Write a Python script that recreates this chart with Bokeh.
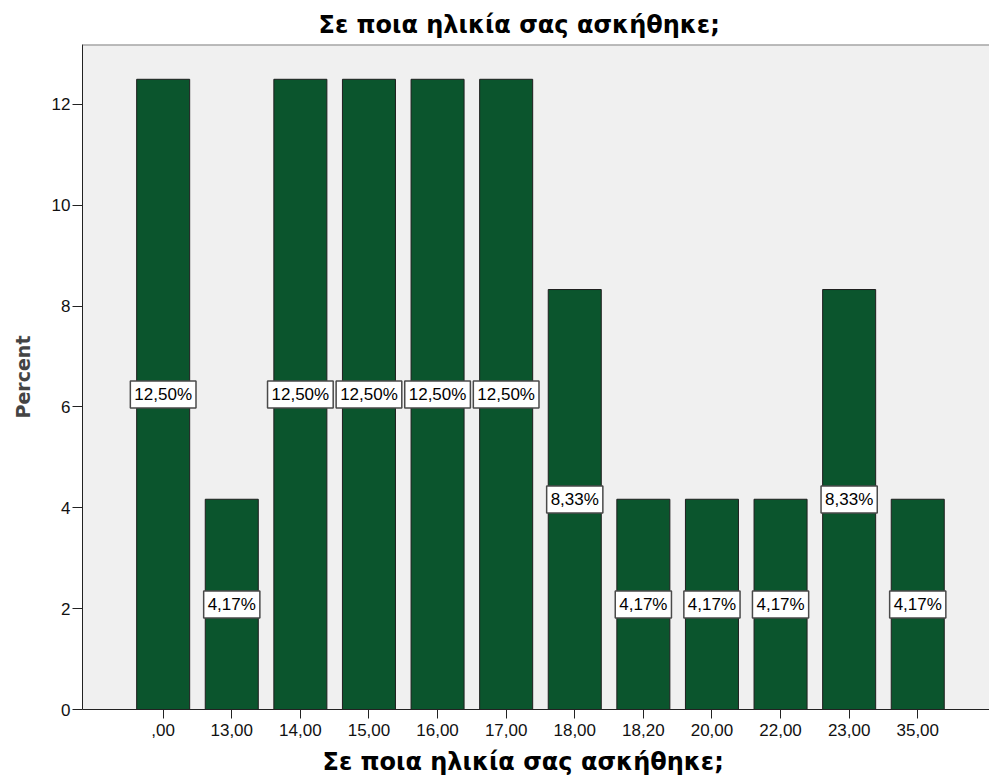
from bokeh.plotting import figure
from bokeh.models import ColumnDataSource, Range1d, FixedTicker, Span, Title
from bokeh.core.properties import value
from bokeh.embed import file_html
from bokeh.resources import INLINE

categories = [",00", "13,00", "14,00", "15,00", "16,00", "17,00", "18,00", "18,20", "20,00", "22,00", "23,00", "35,00"]
percents = [12.50, 4.17, 12.50, 12.50, 12.50, 12.50, 8.33, 4.17, 4.17, 4.17, 8.33, 4.17]
y_ticks = [0, 2, 4, 6, 8, 10, 12]
title_text = "Σε ποια ηλικία σας ασκήθηκε;"
x_title_text = "Σε ποια ηλικία σας ασκήθηκε;"
y_title_text = "Percent"

xs = list(range(len(categories)))
src = ColumnDataSource(dict(
    x=xs,
    top=percents,
    mid=[v / 2 for v in percents],
    lab=[f"{v:.2f}%".replace(".", ",") for v in percents],
))

p = figure(width=989, height=784, output_backend="svg", toolbar_location=None,
           x_range=Range1d(-1.176, 12.046), y_range=Range1d(0, 13.19),
           min_border_left=82, min_border_right=0, min_border_top=44, min_border_bottom=75)

p.title.text = title_text
p.title.align = "left"
p.title.offset = 236
p.title.text_font = "DejaVu Sans"
p.title.text_font_style = "bold"
p.title.text_font_size = "24px"
p.title.text_color = "#000000"
p.title.standoff = 12

p.background_fill_color = "#F0F0F0"
p.border_fill_color = "white"
p.outline_line_color = None
p.grid.visible = False

p.vbar(x="x", top="top", width=0.773, source=src, fill_color="#0b552d",
       line_color="#1e1e1e", line_width=1)

p.text(x="x", y="mid", text="lab", source=src, text_align="center",
       text_baseline="middle", text_font=value("Liberation Sans"), text_font_size="17px",
       text_color="#000000", background_fill_color="white",
       border_line_color="#4a4a4a", border_line_width=1.5, padding=4)

p.add_layout(Span(location=13.19, dimension="width", line_color="#808080", line_width=2))

xa = p.xaxis[0]
xa.ticker = FixedTicker(ticks=xs)
xa.major_label_overrides = {i: c for i, c in enumerate(categories)}
xa.major_tick_in = 0
xa.major_tick_out = 9
xa.minor_tick_line_color = None
xa.axis_line_color = "#222222"
xa.major_tick_line_color = "#222222"
xa.major_label_text_font = "Liberation Sans"
xa.major_label_text_font_size = "17px"
xa.major_label_text_color = "#111111"
xa.major_label_standoff = 5

x_title = Title(text=x_title_text, align="left", offset=240, text_font="DejaVu Sans",
                text_font_style="bold", text_font_size="24px", text_color="#000000",
                standoff=15)
p.add_layout(x_title, "below")

ya = p.yaxis[0]
ya.ticker = FixedTicker(ticks=y_ticks)
ya.major_tick_in = 0
ya.major_tick_out = 10
ya.minor_tick_line_color = None
ya.axis_line_color = "#222222"
ya.major_tick_line_color = "#222222"
ya.major_label_text_font = "Liberation Sans"
ya.major_label_text_font_size = "17px"
ya.major_label_text_color = "#111111"
ya.major_label_standoff = 2
ya.axis_label = y_title_text
ya.axis_label_text_font = "DejaVu Sans"
ya.axis_label_text_font_style = "bold"
ya.axis_label_text_font_size = "19px"
ya.axis_label_standoff = 15

open("out.html", "w").write(file_html(p, INLINE))
